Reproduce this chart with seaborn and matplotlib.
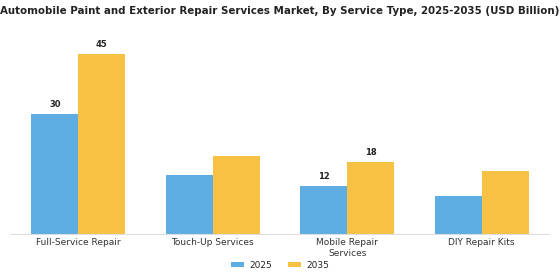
import pandas as pd
import matplotlib.pyplot as plt
import seaborn as sns

categories = ["Full-Service Repair", "Touch-Up Services", "Mobile Repair\nServices", "DIY Repair Kits"]
years = ["2025", "2035"]
values_2025 = [30, 14.7, 12, 9.5]
values_2035 = [45, 19.6, 18, 15.8]
labelled = {"Full-Service Repair", "Mobile Repair\nServices"}

df = pd.DataFrame({
    "category": categories * 2,
    "year": [years[0]] * len(categories) + [years[1]] * len(categories),
    "value": values_2025 + values_2035,
})

sns.set_style("white")
plt.rcParams["font.family"] = ["DejaVu Sans"]

fig, ax = plt.subplots(figsize=(5.6, 2.8), dpi=100)
sns.barplot(
    data=df, x="category", y="value", hue="year",
    palette=["#5DADE2", "#F7C244"], width=0.7, saturation=1, linewidth=0, ax=ax,
)

# value labels only on the groups that show them
for container, vals in zip(ax.containers, [values_2025, values_2035]):
    for bar, cat, v in zip(container, categories, vals):
        if cat in labelled:
            ax.text(bar.get_x() + bar.get_width() / 2, bar.get_height() + 1.2, f"{v:g}",
                    ha="center", va="bottom", fontsize=6, fontweight="bold", color="#222222")

ax.set_xlim(-0.5, 3.5)
ax.set_ylim(0, 45 / 0.9)
ax.set_xlabel("")
ax.set_ylabel("")
ax.set_yticks([])
ax.tick_params(axis="x", labelsize=6.5, colors="#333333", length=0, pad=3)
for s in ["top", "right", "left"]:
    ax.spines[s].set_visible(False)
ax.spines["bottom"].set_color("#dddddd")
ax.spines["bottom"].set_linewidth(0.8)

ax.legend(loc="center", bbox_to_anchor=(0.5, -0.155), ncol=2, frameon=False,
          fontsize=6.5, handlelength=1.5, handleheight=0.6, handletextpad=0.6,
          columnspacing=1.7)

fig.suptitle("Automobile Paint and Exterior Repair Services Market, By Service Type, 2025-2035 (USD Billion)",
             fontsize=7.4, fontweight="bold", color="#222222", x=0.5, y=0.98)
fig.subplots_adjust(left=0.02, right=0.98, top=0.879, bottom=0.164)
fig.savefig("out.png", dpi=100)
